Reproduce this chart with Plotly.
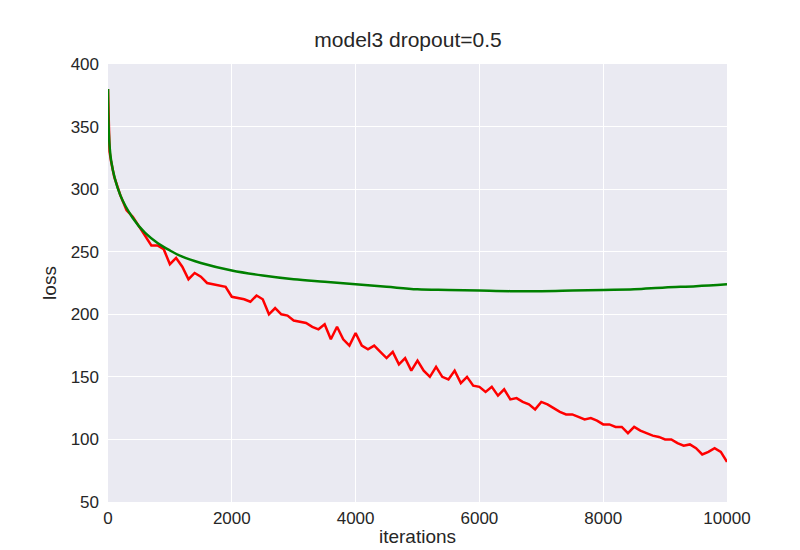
import plotly.graph_objects as go

red_x = [0,25,50,100,200,300,400,500,600,700,800,900,1000,1100,1200,1300,1400,1500,1600,1700,1800,1900,2000,2200,2300,2400,2500,2600,2700,2800,2900,3000,3200,3300,3400,3500,3600,3700,3800,3900,4000,4100,4200,4300,4400,4500,4600,4700,4800,4900,5000,5100,5200,5300,5400,5500,5600,5700,5800,5900,6000,6100,6200,6300,6400,6500,6600,6700,6800,6900,7000,7100,7200,7300,7400,7500,7600,7700,7800,7900,8000,8100,8200,8300,8400,8500,8600,8700,8800,8900,9000,9100,9200,9300,9400,9500,9600,9700,9800,9900,10000]
red_y = [380,330,322,310,295,283,278,270,263,255,255,252,240,245,238,228,233,230,225,224,223,222,214,212,210,215,212,200,205,200,199,195,193,190,188,192,180,190,180,175,185,175,172,175,170,165,170,160,165,155,163,155,150,158,150,148,155,145,150,143,142,138,142,135,140,132,133,130,128,124,130,128,125,122,120,120,118,116,117,115,112,112,110,110,105,110,107,105,103,102,100,100,97,95,96,93,88,90,93,90,82]

green_x = [0,50,200,400,600,800,1000,1200,1500,2000,2500,3000,3500,4000,4500,5000,5500,6000,6500,7000,7500,8000,8500,9000,9500,10000]
green_y = [380,323,295,277,265,257,251,246,241,235,231,228,226,224,222,220,219.5,219,218.5,218.5,219,219.5,220,221.5,222.5,224]

fig = go.Figure()
fig.add_trace(go.Scatter(x=red_x, y=red_y, mode="lines", line=dict(color="red", width=2.5)))
fig.add_trace(go.Scatter(x=green_x, y=green_y, mode="lines", line=dict(color="#008000", width=2.5, shape="spline")))
fig.update_layout(
    width=800, height=550, showlegend=False,
    paper_bgcolor="white", plot_bgcolor="#EAEAF2",
    margin=dict(l=100, r=81, t=56, b=56, autoexpand=False),
    font=dict(family="Liberation Sans, Arial", size=17, color="#262626"),
    title=dict(text="model3 dropout=0.5", x=0.5, xanchor="center", y=0.955, font=dict(size=21)),
)
fig.update_xaxes(range=[0, 10000], dtick=2000, tickformat="d", showgrid=True, gridcolor="white", gridwidth=1.3,
                 zeroline=False, showline=False, ticks="", ticklabelstandoff=4, automargin=False,
                 title=dict(text="iterations", standoff=2, font=dict(size=19)))
fig.update_yaxes(range=[50, 400], dtick=50, showgrid=True, gridcolor="white", gridwidth=1.3,
                 zeroline=False, showline=False, ticks="", ticklabelstandoff=8, automargin=False,
                 title=dict(text="loss", standoff=8, font=dict(size=19)))
fig.write_html("out.html")
